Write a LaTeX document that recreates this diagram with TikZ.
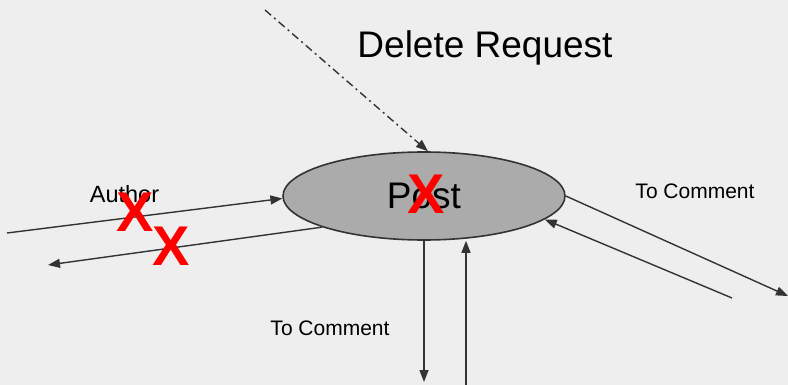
\documentclass[tikz,border=0pt]{standalone}
\usepackage{fontspec}
\setmainfont{Liberation Sans}
\usetikzlibrary{arrows.meta,shapes.geometric}
\definecolor{bg}{HTML}{EEEEEE}
\definecolor{postfill}{HTML}{ABABAB}
\definecolor{ink}{HTML}{333333}

\begin{document}
\begin{tikzpicture}[x=1pt,y=-1pt,
  flow/.style={draw=ink, line width=1.4pt, -{Triangle[length=12pt,width=9pt]}},
  tag/.style={inner sep=0, anchor=base, font=\fontsize{21}{24}\selectfont},
  cross/.style={inner sep=0, text=red, font=\fontsize{56}{60}\selectfont\bfseries}]
  % canvas
  \fill[bg] (0,0) rectangle (788,385);
  \useasboundingbox (0,0) rectangle (788,385);

  % central entity
  \node[ellipse, draw=ink, line width=1.6pt, fill=postfill, minimum width=282pt,
        minimum height=88pt, inner sep=0, font=\fontsize{37}{40}\selectfont]
        (post) at (424,196) {Post};

  % free ends of the connectors
  \coordinate (authorIn)   at (7,233);
  \coordinate (authorOut)  at (48,265);
  \coordinate (request)    at (265,10);
  \coordinate (commentOut) at (788,296);
  \coordinate (commentIn)  at (732,298);
  \coordinate (downOut)    at (424,382);
  \coordinate (upIn)       at (466,385);

  % connectors
  \draw[flow] (authorIn) -- (post.181);
  \draw[flow] (post.197) -- (authorOut);
  \draw[flow, dash pattern=on 8pt off 4pt on 2pt off 4pt] (request) -- (post.85);
  \draw[flow] (post.east) -- (commentOut);
  \draw[flow] (commentIn) -- (post.-11);
  \draw[flow] (post.south) -- (downOut);
  \draw[flow] (upIn) -- (upIn |- post.south);

  % labels
  \node[inner sep=0, anchor=base, font=\fontsize{37}{40}\selectfont] (reqlabel) at (485,58) {Delete Request};
  \node[tag, font=\fontsize{23.5}{26}\selectfont] (authorlabel) at (124.5,203) {Author};
  \node[tag] (rightlabel) at (695,199) {To Comment};
  \node[tag] (bottomlabel) at (330,335) {To Comment};

  % strike marks
  \node[cross] (x1) at (135,212) {X};
  \node[cross] (x2) at (171,246) {X};
  \node[cross] (x3) at (426,194) {X};
\end{tikzpicture}
\end{document}
